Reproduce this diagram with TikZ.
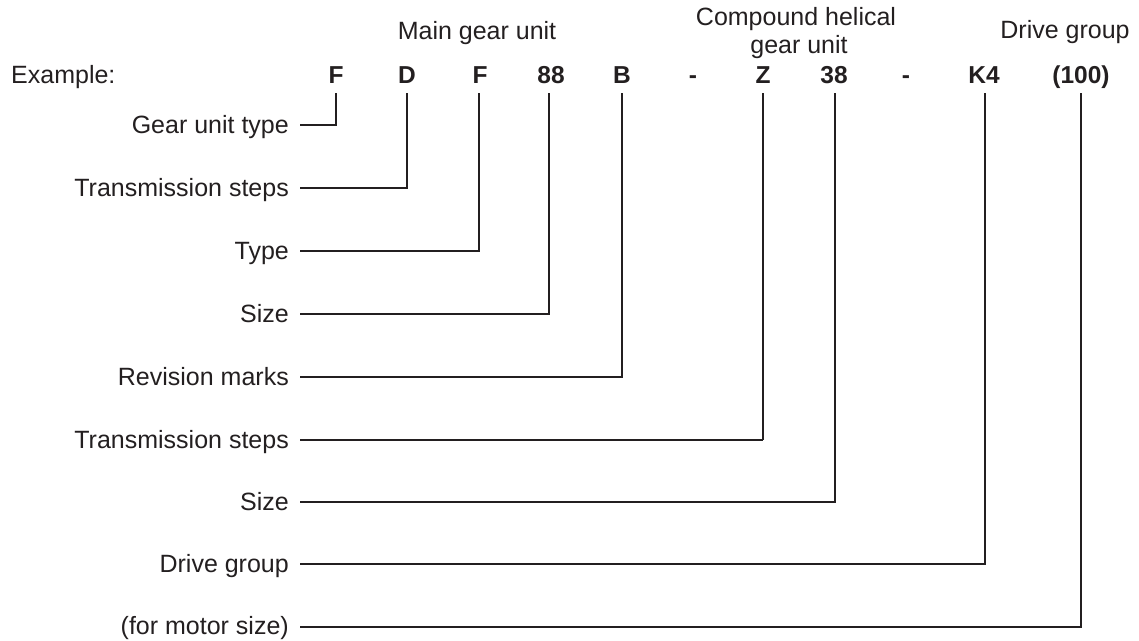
\documentclass[tikz,border=0pt]{standalone}
\usepackage{fontspec}
\setmainfont{Liberation Sans}
\definecolor{ink}{HTML}{231F20}
\begin{document}
\begin{tikzpicture}[x=1pt,y=-1pt,
  txt/.style={inner sep=0pt,text=ink,font=\fontsize{25}{29}\selectfont},
  code/.style={txt,anchor=base,font=\fontsize{24.5}{29}\selectfont\bfseries},
  lbl/.style={txt,anchor=base east},
  thick line/.style={draw=ink,line width=2.2pt},
  thin line/.style={draw=ink,line width=1.3pt}]
\useasboundingbox (0,0) rectangle (1139,640);
% headers
\node[txt,anchor=base] (hmain) at (477,39) {Main gear unit};
\node[txt,anchor=base] (hcomp1) at (796,25) {Compound helical};
\node[txt,anchor=base] (hcomp2) at (799,53) {gear unit};
\node[txt,anchor=base] (hdrive) at (1065,38) {Drive group};
% example row
\node[txt,anchor=base west] (ex) at (11,83) {Example:};
\node[code] (c1) at (336,83) {F};
\node[code] (c2) at (407,83) {D};
\node[code] (c3) at (480,83) {F};
\node[code] (c4) at (551,83) {88};
\node[code] (c5) at (622,83) {B};
\node[code] (d1) at (693,83) {-};
\node[code] (c6) at (763,83) {Z};
\node[code] (c7) at (834,83) {38};
\node[code] (d2) at (906,83) {-};
\node[code] (c8) at (984,83) {K4};
\node[code] (c9) at (1081,83) {(100)};
% labels
\node[lbl] (l1) at (289,133) {Gear unit type};
\node[lbl] (l2) at (289,196) {Transmission steps};
\node[lbl] (l3) at (289,259) {Type};
\node[lbl] (l4) at (289,322) {Size};
\node[lbl] (l5) at (289,385) {Revision marks};
\node[lbl] (l6) at (289,448) {Transmission steps};
\node[lbl] (l7) at (289,510) {Size};
\node[lbl] (l8) at (289,572) {Drive group};
\node[lbl] (l9) at (289,634) {(for motor size)};
% connectors
\coordinate (s1) at (300,125);
\coordinate (s2) at (300,188);
\coordinate (s3) at (300,251);
\coordinate (s4) at (300,314);
\coordinate (s5) at (300,377);
\coordinate (s6) at (300,440);
\coordinate (s7) at (300,502);
\coordinate (s8) at (300,564);
\coordinate (s9) at (300,627);
\coordinate (t1) at (336,93);
\coordinate (t2) at (407,93);
\coordinate (t3) at (479,93);
\coordinate (t4) at (549,93);
\coordinate (t5) at (622,93);
\coordinate (t6) at (763,93);
\coordinate (t7) at (835,93);
\coordinate (t8) at (985,93);
\coordinate (t9) at (1081,93);
\draw[thick line] (s1) -| (t1);
\draw[thick line] (s2) -| (t2);
\draw[thick line] (s3) -| (t3);
\draw[thin line] (s4) -| (t4);
\draw[thick line] (s5) -| (t5);
\draw[thick line] (s6) -- (s6 -| t6);
\draw[thin line] (s6 -| t6) -- (t6);
\draw[thick line] (s7) -| (t7);
\draw[thick line] (s8) -| (t8);
\draw[thin line] (s9) -| (t9);
\end{tikzpicture}
\end{document}
